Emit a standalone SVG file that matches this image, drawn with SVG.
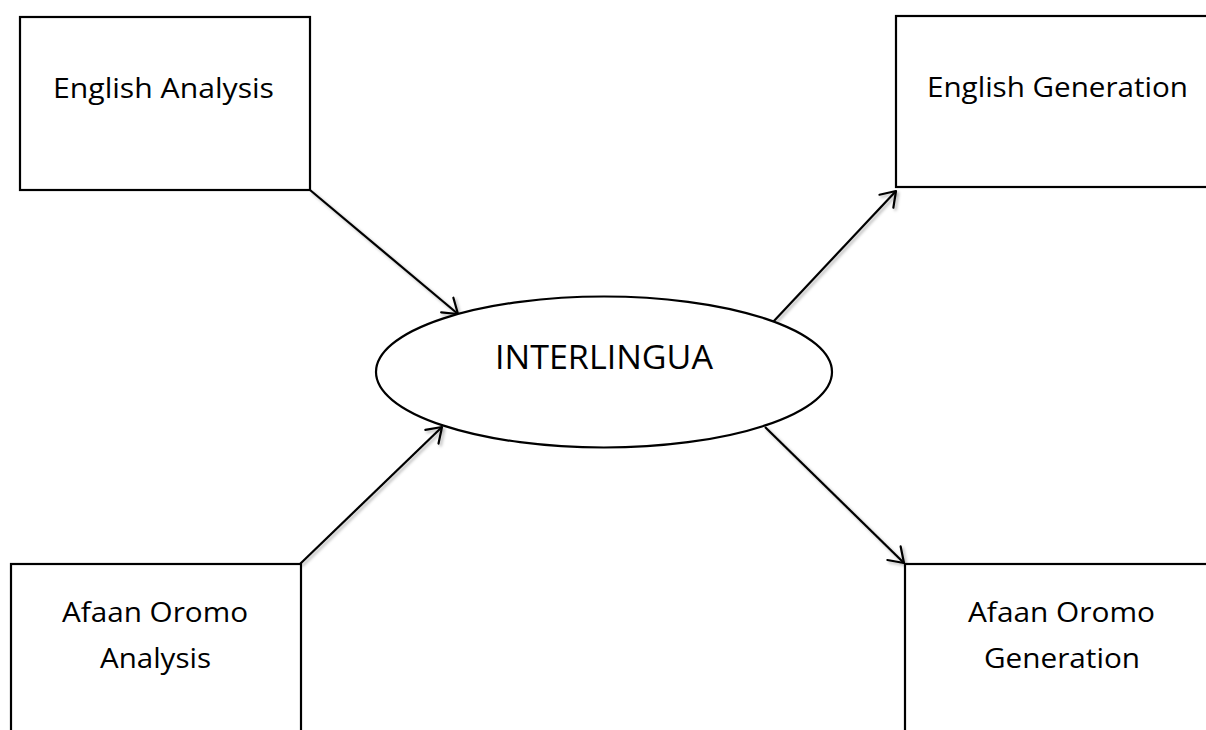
<svg xmlns="http://www.w3.org/2000/svg" width="1206" height="730" viewBox="0 0 1206 730">
<style>
.box{fill:#fff;stroke:#000;stroke-width:2.2}
.lbl{font-family:"Open Sans","Liberation Sans",sans-serif;font-size:27px;fill:#000;text-anchor:middle}
.big{font-size:33.5px}
.conn{stroke:#000;stroke-width:2.2;fill:none;marker-end:url(#arr);filter:url(#sh)}
</style>
<defs>
<marker id="arr" markerUnits="userSpaceOnUse" orient="auto" viewBox="-20 -15 30 30" markerWidth="30" markerHeight="30" refX="0" refY="0">
<path d="M-14,-9.5 L0,0 L-14,9.5" fill="none" stroke="#000" stroke-width="2.2" stroke-linecap="round" stroke-linejoin="round"/>
</marker>
<filter id="sh" x="-20%" y="-20%" width="140%" height="140%">
<feDropShadow dx="2" dy="2" stdDeviation="1.5" flood-color="#000" flood-opacity="0.3"/>
</filter>
</defs>
<rect width="1206" height="730" fill="#fff"/>
<g id="connectors">
<line class="conn" x1="310" y1="190" x2="458" y2="314"/>
<line class="conn" x1="300" y1="564" x2="442" y2="427"/>
<line class="conn" x1="773" y1="322" x2="896" y2="191"/>
<line class="conn" x1="765" y1="427" x2="904" y2="563"/>
</g>
<g id="english-analysis">
<rect class="box" x="20" y="17" width="290" height="173"/>
<text class="lbl" x="163.5" y="98" textLength="221" lengthAdjust="spacingAndGlyphs">English Analysis</text>
</g>
<g id="english-generation">
<rect class="box" x="896" y="16" width="330" height="171"/>
<text class="lbl" x="1057.5" y="97" textLength="261" lengthAdjust="spacingAndGlyphs">English Generation</text>
</g>
<g id="afaan-oromo-analysis">
<rect class="box" x="11" y="564" width="290" height="200"/>
<text class="lbl" x="155" y="622" textLength="186" lengthAdjust="spacingAndGlyphs">Afaan Oromo</text>
<text class="lbl" x="155.5" y="668" textLength="111" lengthAdjust="spacingAndGlyphs">Analysis</text>
</g>
<g id="afaan-oromo-generation">
<rect class="box" x="905" y="564" width="330" height="200"/>
<text class="lbl" x="1061.5" y="622" textLength="187" lengthAdjust="spacingAndGlyphs">Afaan Oromo</text>
<text class="lbl" x="1062" y="668" textLength="156" lengthAdjust="spacingAndGlyphs">Generation</text>
</g>
<g id="interlingua">
<ellipse class="box" cx="604" cy="372" rx="228" ry="75.5"/>
<text class="lbl big" x="604" y="369" textLength="218" lengthAdjust="spacingAndGlyphs">INTERLINGUA</text>
</g>
</svg>
